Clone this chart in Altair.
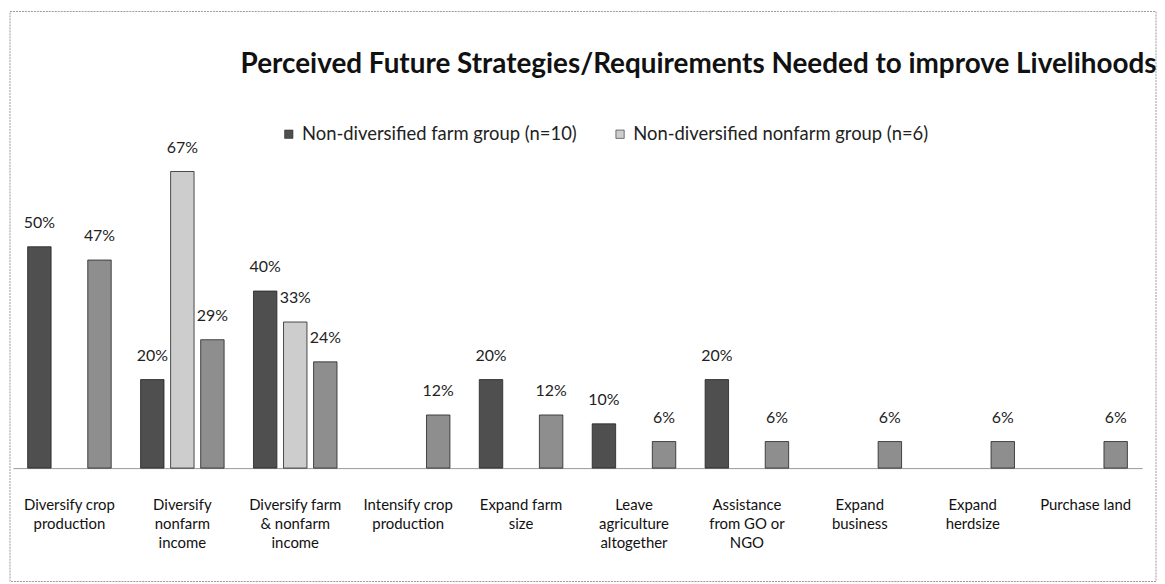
import altair as alt
import pandas as pd

categories = [
    "Diversify crop|production",
    "Diversify|nonfarm|income",
    "Diversify farm|& nonfarm|income",
    "Intensify crop|production",
    "Expand farm|size",
    "Leave|agriculture|altogether",
    "Assistance|from GO or|NGO",
    "Expand|business",
    "Expand|herdsize",
    "Purchase land",
]
series = [
    "Non-diversified farm group (n=10)",
    "Non-diversified nonfarm group (n=6)",
    "Diversified group (n=17)",
]
farm = [0.50, 0.20, 0.40, None, 0.20, 0.10, 0.20, None, None, None]
nonfarm = [None, 0.67, 0.33, None, None, None, None, None, None, None]
diversified = [0.47, 0.29, 0.24, 0.12, 0.12, 0.06, 0.06, 0.06, 0.06, 0.06]
colors = ["#4f4f4f", "#cdcdcd", "#8e8e8e"]

rows = []
for s, vals in zip(series, [farm, nonfarm, diversified]):
    for c, v in zip(categories, vals):
        if v is not None:
            rows.append({"category": c, "series": s, "value": v})
df = pd.DataFrame(rows)

FONT = "Lato"

x = alt.X("category:N", sort=categories, title=None,
          scale=alt.Scale(paddingInner=0.26, paddingOuter=0.13),
          axis=alt.Axis(labelAngle=0, labelExpr="split(datum.label, '|')",
                        labelFont=FONT, labelFontSize=15, labelColor="#111",
                        labelLineHeight=19, labelPadding=30, labelBaseline="top",
                        ticks=False, domainColor="#999", labelLimit=200))
xo = alt.XOffset("series:N", sort=series, scale=alt.Scale(paddingInner=0.22))
y = alt.Y("value:Q", scale=alt.Scale(domain=[0, 0.8]), axis=None)

base = alt.Chart(df).encode(x=x, xOffset=xo, y=y)

bars = base.mark_bar(stroke="#222", strokeWidth=0.8).encode(
    color=alt.Color("series:N", sort=series,
                    scale=alt.Scale(domain=series, range=colors),
                    legend=alt.Legend(title=None, orient="none", direction="horizontal",
                                      legendX=268, legendY=11, values=series[:2],
                                      symbolType="square", symbolSize=70,
                                      symbolStrokeColor="#222", symbolStrokeWidth=0.6,
                                      labelFont=FONT, labelFontSize=18.5, labelColor="#222",
                                      columnPadding=34, labelLimit=400))
)
labels = base.mark_text(baseline="bottom", dy=-16, font=FONT, fontSize=16, color="#222").encode(
    text=alt.Text("value:Q", format=".0%")
)

frame = alt.Chart(pd.DataFrame({"k": [0]})).mark_rect(
    filled=False, stroke="#999", strokeWidth=1, strokeDash=[2, 1]
).encode(x=alt.value(-3), x2=alt.value(1149), y=alt.value(-103), y2=alt.value(470))

chart = alt.layer(frame, bars, labels).properties(
    width=1135, height=356, background="white",
    title=alt.TitleParams(
        "Perceived Future Strategies/Requirements Needed to improve Livelihoods",
        anchor="end", font=FONT, fontSize=28, fontWeight="bold", color="#111",
        offset=-68),
    padding={"left": 1, "top": 1, "right": 0, "bottom": 0},
).configure_view(stroke="transparent", strokeWidth=0)

chart.save("out.html", embed_options={"renderer": "svg", "actions": False})
